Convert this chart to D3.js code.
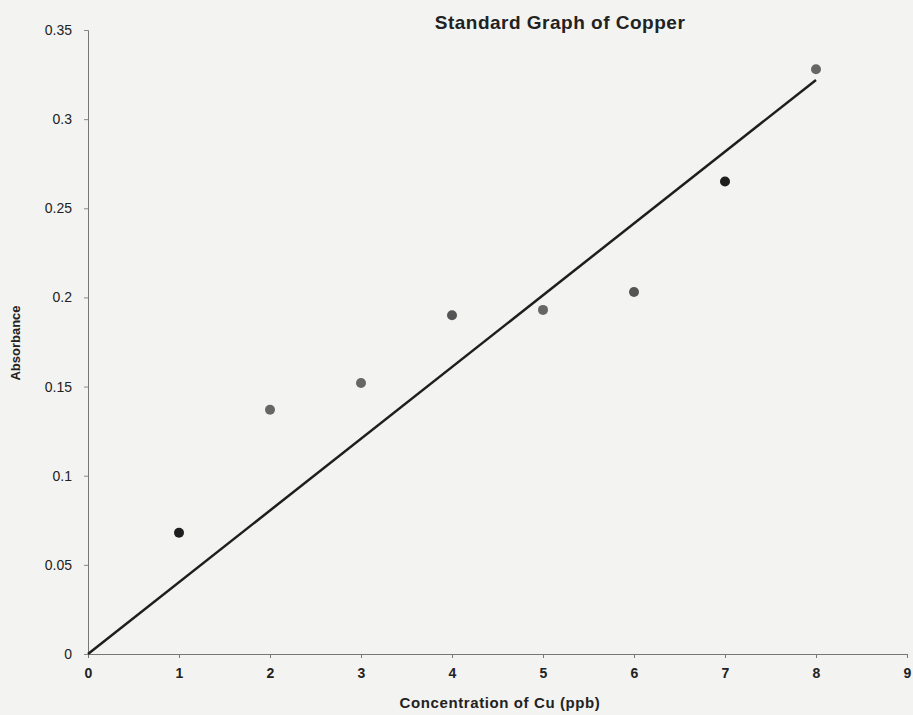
<!DOCTYPE html>
<html lang="en">
<head>
  <meta charset="UTF-8">
  <title>Standard Graph of Copper</title>
  <script src="https://d3js.org/d3.v7.min.js"></script>
  <style>
    body { margin: 0; background: #f3f3f1; }
    text { font-family: "Liberation Sans", Arial, sans-serif; fill: #222; }
  </style>
</head>
<body>
<script>
// chart size
var width = 913,
    height = 715;

// data
var concentration = [1, 2, 3, 4, 5, 6, 7, 8];
var absorbance = [0.068, 0.137, 0.152, 0.19, 0.193, 0.203, 0.265, 0.328];
var pointShade = ["#1e1e1e", "#666", "#666", "#555", "#666", "#555", "#1e1e1e", "#666"];
var trendX = [0, 8];
var trendY = [0, 0.322];
var xTicks = [0, 1, 2, 3, 4, 5, 6, 7, 8, 9];
var yTicks = [0, 0.05, 0.1, 0.15, 0.2, 0.25, 0.3, 0.35];

var margin = {top: 30, right: 6, bottom: 61, left: 88};

var svg = d3.select("body").append("svg")
    .attr("width", width)
    .attr("height", height);

var x = d3.scaleLinear().domain([0, 9]).range([margin.left, width - margin.right]);
var y = d3.scaleLinear().domain([0, 0.35]).range([height - margin.bottom, margin.top]);

// x axis
var xAxis = svg.append("g")
    .attr("transform", "translate(0," + y(0) + ")")
    .call(d3.axisBottom(x).tickValues(xTicks).tickSize(4).tickPadding(10).tickFormat(d3.format("d")));
xAxis.select(".domain").attr("stroke", "#777");
xAxis.selectAll(".tick line").attr("stroke", "#777");
xAxis.selectAll("text")
    .style("font-size", "14px")
    .style("font-weight", "bold")
    .attr("fill", "#222");

// y axis
var yAxis = svg.append("g")
    .attr("transform", "translate(" + x(0) + ",0)")
    .call(d3.axisLeft(y).tickValues(yTicks).tickSize(4).tickPadding(12).tickFormat(function(d){ return d === 0 ? "0" : String(+d.toFixed(2)); }));
yAxis.select(".domain").attr("stroke", "#777");
yAxis.selectAll(".tick line").attr("stroke", "#888");
yAxis.selectAll("text").style("font-size", "14px").attr("fill", "#222");

// trend line
var line = d3.line()
    .x(function(d){ return x(d[0]); })
    .y(function(d){ return y(d[1]); });

svg.append("path")
    .datum(d3.zip(trendX, trendY))
    .attr("d", line)
    .attr("fill", "none")
    .attr("stroke", "#1e1e1e")
    .attr("stroke-width", 2.5);

// points
svg.selectAll("circle")
    .data(d3.zip(concentration, absorbance, pointShade))
    .enter().append("circle")
    .attr("cx", function(d){ return x(d[0]); })
    .attr("cy", function(d){ return y(d[1]); })
    .attr("r", 5)
    .attr("fill", function(d){ return d[2]; });

// titles
svg.append("text")
    .attr("x", 560)
    .attr("y", 29)
    .attr("text-anchor", "middle")
    .style("font-size", "19px")
    .style("letter-spacing", "0.5px")
    .style("font-weight", "bold")
    .text("Standard Graph of Copper");

svg.append("text")
    .attr("x", 500)
    .attr("y", 708)
    .attr("text-anchor", "middle")
    .style("font-size", "15px")
    .style("letter-spacing", "0.6px")
    .style("font-weight", "bold")
    .text("Concentration of Cu (ppb)");

svg.append("text")
    .attr("transform", "translate(20," + 343 + ") rotate(-90)")
    .attr("text-anchor", "middle")
    .style("font-size", "13px")
    .style("font-weight", "bold")
    .text("Absorbance");
</script>
</body>
</html>
